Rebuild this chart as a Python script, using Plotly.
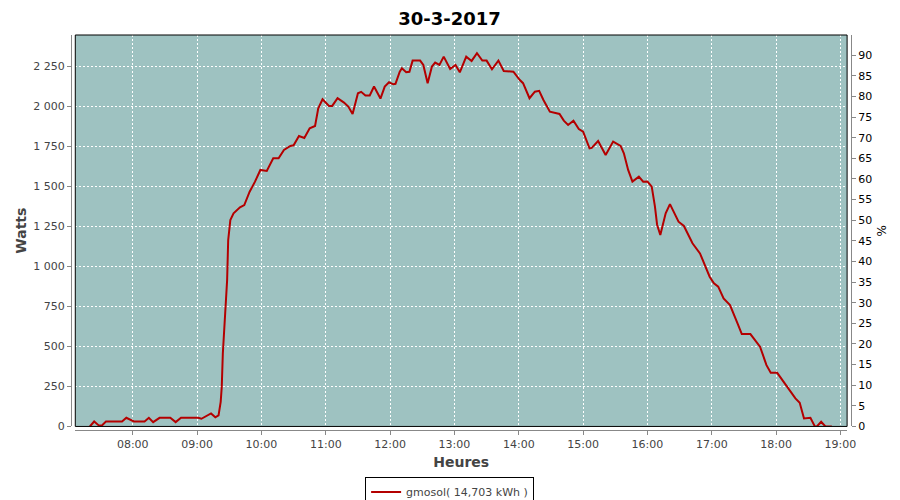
import plotly.graph_objects as go

day = "2017-03-30"
times = ["07:20","07:24","07:28","07:31","07:35","07:50","07:54","08:01","08:11","08:15","08:19","08:25","08:35","08:40","08:45","09:01","09:04","09:09","09:13","09:17","09:20","09:22","09:23","09:24","09:26","09:28","09:29","09:31","09:34","09:40","09:44","09:46","09:49","09:54","09:59","10:05","10:11","10:16","10:21","10:27","10:30","10:35","10:40","10:45","10:50","10:53","10:57","11:03","11:06","11:11","11:17","11:21","11:25","11:30","11:33","11:37","11:41","11:45","11:51","11:55","11:59","12:03","12:05","12:09","12:11","12:15","12:18","12:21","12:28","12:31","12:35","12:39","12:42","12:46","12:50","12:56","13:01","13:05","13:11","13:16","13:21","13:26","13:30","13:35","13:41","13:46","13:55","14:01","14:04","14:10","14:15","14:19","14:23","14:29","14:38","14:42","14:46","14:51","14:56","15:00","15:06","15:08","15:14","15:21","15:28","15:35","15:38","15:42","15:46","15:52","15:56","16:00","16:04","16:07","16:09","16:12","16:17","16:21","16:29","16:34","16:42","16:49","16:54","16:58","17:02","17:06","17:11","17:17","17:24","17:28","17:36","17:45","17:51","17:55","18:01","18:10","18:18","18:22","18:26","18:32","18:36","18:38","18:42","18:46","18:52"]
watts = [0,31,8,5,31,31,54,31,31,54,27,54,54,27,54,54,48,67,81,57,69,154,248,456,706,914,1164,1289,1331,1369,1383,1414,1466,1529,1602,1596,1675,1675,1727,1752,1756,1814,1802,1862,1877,1987,2044,2002,2002,2050,2023,1998,1952,2081,2090,2067,2067,2123,2048,2123,2150,2137,2140,2216,2237,2212,2215,2285,2285,2258,2144,2248,2273,2258,2310,2233,2258,2212,2310,2283,2331,2285,2285,2231,2285,2220,2216,2164,2144,2050,2091,2096,2039,1966,1952,1910,1883,1910,1858,1841,1737,1740,1783,1696,1779,1752,1706,1602,1529,1560,1529,1530,1498,1373,1260,1196,1331,1389,1279,1252,1144,1081,998,935,894,873,800,758,644,577,577,498,383,335,335,248,175,148,50,54,2,0,29,0,0]

series_name = "gmosol( 14,703 kWh )"
title_text = "30-3-2017"
x_range = ["07:06:24", "19:06:12"]
y_range = [0, 2445]
y2_range = [0, 94.9]

x = [f"{day} {t}" for t in times]

fig = go.Figure()
fig.add_trace(go.Scatter(x=x, y=watts, mode="lines", name=series_name,
                         line=dict(color="#B40000", width=2)))
# invisible trace to activate right axis
fig.add_trace(go.Scatter(x=[x[0]], y=[0], yaxis="y2", mode="markers",
                         marker=dict(opacity=0), showlegend=False, hoverinfo="skip"))

tickfont = dict(family="DejaVu Sans", size=11, color="#444444")
griddash = "2px,2px"

fig.update_layout(
    width=892, height=492,
    paper_bgcolor="white", plot_bgcolor="#9EC2C1",
    margin=dict(l=63, r=49, t=27, b=70, autoexpand=False),
    title=dict(text="<b>" + title_text + "</b>", x=0.495, xanchor="center",
               y=0.9776, yanchor="middle", automargin=False,
               font=dict(family="DejaVu Sans", size=18, color="black")),
    xaxis=dict(type="date", domain=[0.0055, 0.995], anchor="free", position=0,
               range=[f"{day} {x_range[0]}", f"{day} {x_range[1]}"],
               tick0=f"{day} 08:00", dtick=3600000, tickformat="%H:%M",
               showgrid=True, gridcolor="white", griddash=griddash, gridwidth=1,
               showline=True, linecolor="#888888", linewidth=1,
               ticks="outside", ticklen=4, tickcolor="#888888",
               tickfont=tickfont, zeroline=False, automargin=False,
               title=dict(text="<b>Heures</b>", standoff=6,
                          font=dict(family="DejaVu Sans", size=14, color="#444444"))),
    yaxis=dict(domain=[0.009, 1], anchor="free", position=0,
               range=y_range, dtick=250, tick0=0,
               tickformat=",d",
               showgrid=True, gridcolor="white", griddash=griddash, gridwidth=1,
               showline=True, linecolor="#888888", linewidth=1,
               ticks="outside", ticklen=4, tickcolor="#888888",
               tickfont=tickfont, zeroline=False, automargin=False,
               title=dict(text="<b>Watts</b>", standoff=2,
                          font=dict(family="DejaVu Sans", size=14, color="#444444"))),
    yaxis2=dict(overlaying="y", side="right", anchor="free", position=1,
                range=y2_range, dtick=5, tick0=0, showgrid=False, zeroline=False,
                showline=True, linecolor="#888888", linewidth=1,
                ticks="outside", ticklen=4, tickcolor="#888888", automargin=False,
                tickfont=dict(family="DejaVu Sans", size=11, color="black"),
                title=dict(text="%", standoff=6,
                           font=dict(family="DejaVu Sans", size=12, color="black"))),
    separators=", ",
    showlegend=True,
    legend=dict(orientation="h", x=0.4854, xanchor="center", y=-0.118, yanchor="top",
                bgcolor="white", bordercolor="black", borderwidth=1,
                font=dict(family="DejaVu Sans", size=11, color="#444444"),
                itemwidth=30),
    shapes=[dict(type="rect", xref="x domain", yref="y domain", x0=0, x1=1, y0=0, y1=1,
                 line=dict(color="black", width=1), fillcolor="rgba(0,0,0,0)", layer="above")],
)

fig.write_html("out.html")
